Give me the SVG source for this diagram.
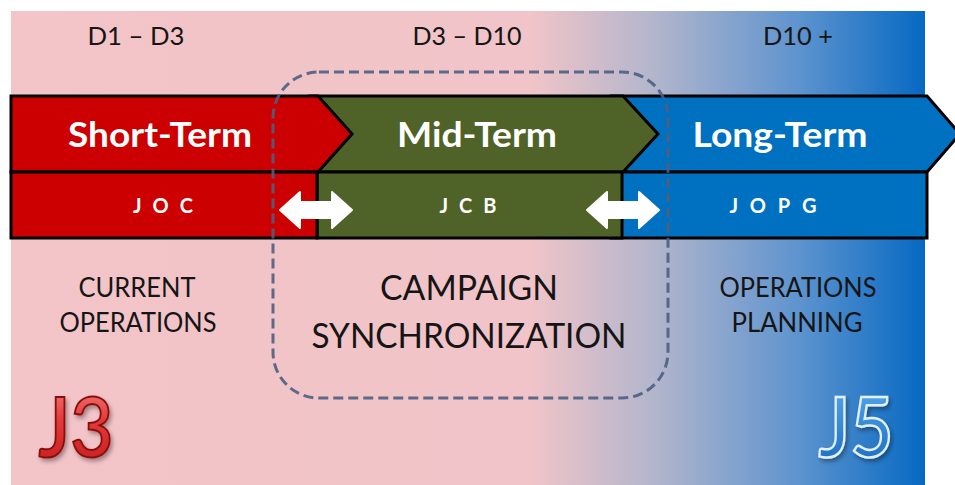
<svg xmlns="http://www.w3.org/2000/svg" width="955" height="485" viewBox="0 0 955 485">
  <defs>
    <linearGradient id="bg" gradientUnits="userSpaceOnUse" x1="11" y1="0" x2="925" y2="0">
      <stop offset="0" stop-color="#f3c4c8"/>
      <stop offset="0.57" stop-color="#f0c4c8"/>
      <stop offset="0.70" stop-color="#b4b6cc"/>
      <stop offset="0.86" stop-color="#5f94cf"/>
      <stop offset="1" stop-color="#0669c2"/>
    </linearGradient>
    <linearGradient id="j3fill" x1="0" y1="0" x2="0" y2="1">
      <stop offset="0" stop-color="#f58a88"/>
      <stop offset="0.45" stop-color="#e23a38"/>
      <stop offset="1" stop-color="#c21a1a"/>
    </linearGradient>
    <linearGradient id="j5fill" x1="0" y1="0" x2="0" y2="1">
      <stop offset="0" stop-color="#5aaef0"/>
      <stop offset="1" stop-color="#1766bd"/>
    </linearGradient>
    <filter id="shadow" x="-20%" y="-20%" width="140%" height="140%">
      <feDropShadow dx="2" dy="3" stdDeviation="2" flood-color="#000" flood-opacity="0.35"/>
    </filter>
    <path id="dbl" d="M0,18 L20,0 L20,10 L52,10 L52,0 L72,18 L52,36 L52,26 L20,26 L20,36 Z"/>
  </defs>
  <style>
    .bar { stroke: #000; stroke-width: 3; stroke-linejoin: miter; }
    .red { fill: #cc0000; }
    .green { fill: #4f6228; }
    .blue { fill: #0070c0; }
    text { font-family: Lato, "Open Sans", "Liberation Sans", sans-serif; text-anchor: middle; }
    .title { font-weight: bold; font-size: 35px; fill: #fff; }
    .code { font-weight: bold; font-size: 20px; fill: #fff; }
    .period { font-size: 25px; fill: #151515; }
    .desc { font-size: 27px; fill: #151515; }
    .big { font-size: 35px; fill: #151515; }
    .arrow { fill: #fff; stroke: #fff; stroke-width: 2; stroke-linejoin: round; }
    .staff { font-size: 82px; font-weight: 600; }
  </style>

  <!-- backdrop -->
  <rect x="0" y="0" width="955" height="485" fill="#fff"/>
  <rect x="11" y="11" width="914" height="474" fill="url(#bg)"/>

  <!-- time periods -->
  <g id="periods">
    <text class="period" x="136" y="45" textLength="97" lengthAdjust="spacingAndGlyphs">D1 – D3</text>
    <text class="period" x="467" y="45" textLength="109" lengthAdjust="spacingAndGlyphs">D3 – D10</text>
    <text class="period" x="798" y="45" textLength="70" lengthAdjust="spacingAndGlyphs">D10 +</text>
  </g>

  <!-- long-term band -->
  <g id="long-term">
    <path class="bar blue" d="M611,96 L927,96 L960,134 L927,172 L611,172 Z"/>
    <rect class="bar blue" x="611" y="172" width="316" height="66"/>
    <text class="title" x="780" y="147" textLength="175" lengthAdjust="spacingAndGlyphs">Long-Term</text>
    <text class="code" x="773" y="213" textLength="87" lengthAdjust="spacing">JOPG</text>
  </g>

  <!-- mid-term band -->
  <g id="mid-term">
    <path class="bar green" d="M310,96 L623,96 L658,134 L623,172 L310,172 Z"/>
    <rect class="bar green" x="317" y="172" width="305" height="66"/>
    <text class="title" x="477" y="147" textLength="160" lengthAdjust="spacingAndGlyphs">Mid-Term</text>
    <text class="code" x="468" y="213" textLength="57" lengthAdjust="spacing">JCB</text>
  </g>

  <!-- short-term band -->
  <g id="short-term">
    <path class="bar red" d="M11,96 L318,96 L352,134 L318,172 L11,172 Z"/>
    <rect class="bar red" x="11" y="172" width="306" height="66"/>
    <text class="title" x="160" y="147" textLength="184" lengthAdjust="spacingAndGlyphs">Short-Term</text>
    <text class="code" x="163" y="213" textLength="60" lengthAdjust="spacing">JOC</text>
  </g>

  <!-- campaign synchronization frame -->
  <g id="campaign">
    <rect x="273" y="72" width="395" height="326" rx="46" ry="46" fill="none" stroke="#4b5f82" stroke-width="3" stroke-dasharray="10 5" stroke-opacity="0.9"/>
    <text class="big" x="469" y="300" textLength="178" lengthAdjust="spacingAndGlyphs">CAMPAIGN</text>
    <text class="big" x="469" y="348" textLength="315" lengthAdjust="spacingAndGlyphs">SYNCHRONIZATION</text>
  </g>

  <!-- hand-offs between cells -->
  <g id="connectors">
    <use href="#dbl" class="arrow" x="280" y="192"/>
    <use href="#dbl" class="arrow" x="587" y="192"/>
  </g>

  <g id="current-ops">
    <text class="desc" x="137" y="297" textLength="117" lengthAdjust="spacingAndGlyphs">CURRENT</text>
    <text class="desc" x="138" y="332" textLength="157" lengthAdjust="spacingAndGlyphs">OPERATIONS</text>
  </g>

  <g id="ops-planning">
    <text class="desc" x="798" y="297" textLength="157" lengthAdjust="spacingAndGlyphs">OPERATIONS</text>
    <text class="desc" x="797" y="332" textLength="131" lengthAdjust="spacingAndGlyphs">PLANNING</text>
  </g>

  <g id="j3">
    <text class="staff" x="76" y="457" fill="url(#j3fill)" stroke="#8a1010" stroke-width="2" filter="url(#shadow)" textLength="75" lengthAdjust="spacingAndGlyphs">J3</text>
  </g>

  <g id="j5">
    <text class="staff" x="856" y="457" fill="url(#j5fill)" stroke="#e0f0ff" stroke-width="2.5" filter="url(#shadow)" textLength="75" lengthAdjust="spacingAndGlyphs">J5</text>
  </g>
</svg>
